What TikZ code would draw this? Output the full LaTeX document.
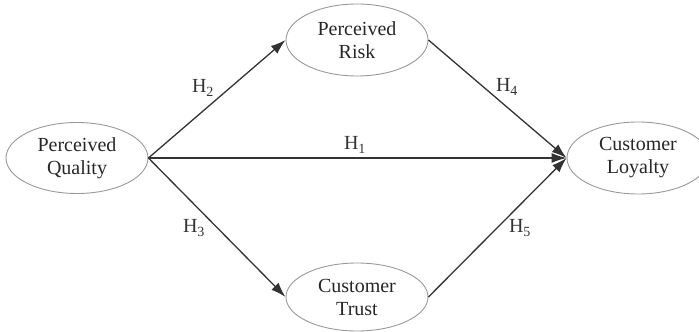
\documentclass[tikz,border=0pt]{standalone}
\usepackage{fontspec}
\setmainfont{Liberation Serif}
\usetikzlibrary{shapes.geometric,arrows.meta}
\tikzset{
  construct/.style={draw=gray!80, line width=0.9pt, ellipse, inner sep=0pt,
    minimum width=142, minimum height=71, align=center, text=black!85,
    font=\fontsize{20}{23}\selectfont},
  hyp/.style={black!80, line width=1.3pt, -{Latex[length=15pt,width=10pt]}},
  hlabel/.style={text=black!80, font=\fontsize{20}{23}\selectfont}
}
\newcommand{\hy}[1]{H\textsubscript{#1}}
\begin{document}
\begin{tikzpicture}[x=1pt,y=1pt]
\useasboundingbox (0,0) rectangle (699,332);
\node (PQ) [construct] at (77,174) {Perceived\\Quality};
\node (PR) [construct, minimum height=72] at (357,292) {Perceived\\Risk};
\node (CT) [construct, minimum height=68] at (357,35) {Customer\\Trust};
\node (CL) [construct, minimum height=72] at (638,174) {Customer\\Loyalty};
\draw[hyp] (PQ.east) -- (CL.west);
\draw[hyp] (PQ.east) -- (PR.west);
\draw[hyp] (PQ.east) -- (CT.west);
\draw[hyp] (PR.east) -- (CL.west);
\draw[hyp] (CT.east) -- (CL.west);
\node (h1) [hlabel] at (355,187) {\hy{1}};
\node (h2) [hlabel] at (203,244) {\hy{2}};
\node (h3) [hlabel] at (194,104) {\hy{3}};
\node (h4) [hlabel] at (507,245) {\hy{4}};
\node (h5) [hlabel] at (520,104) {\hy{5}};
\end{tikzpicture}
\end{document}
